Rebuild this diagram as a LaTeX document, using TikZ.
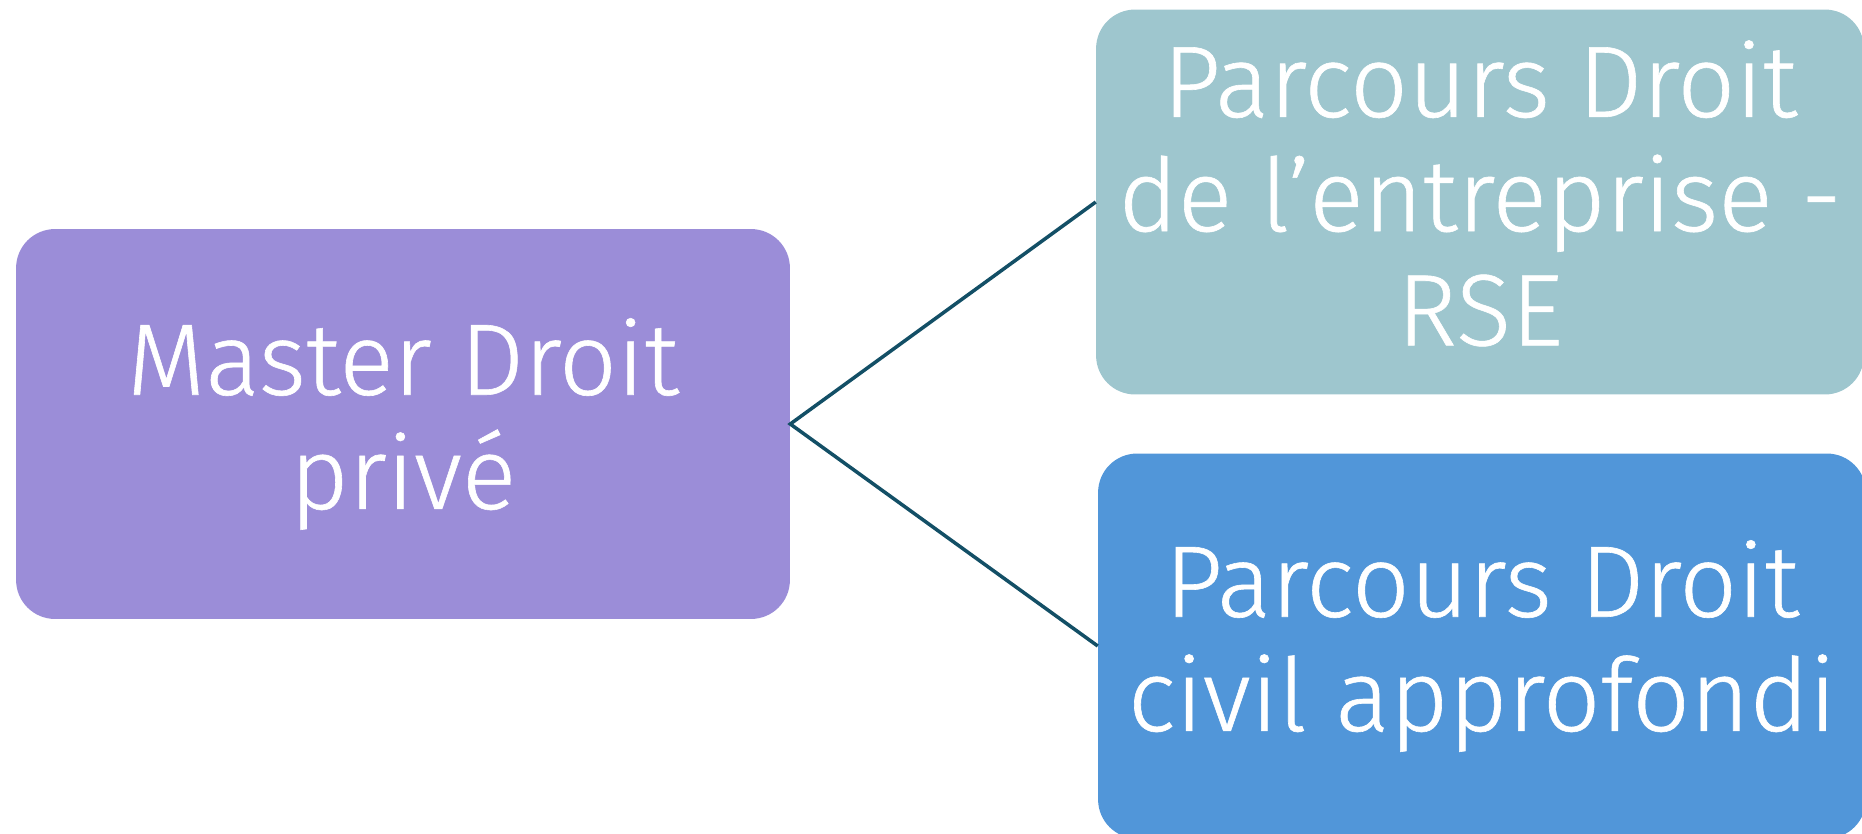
\documentclass[tikz,border=0pt]{standalone}
\usepackage{fontspec}
\setmainfont{Fira Sans}[UprightFont=* Light, UprightFeatures={FakeBold=0.6}]
\usetikzlibrary{positioning}
\definecolor{masterfill}{HTML}{9B8DD8}
\definecolor{rsefill}{HTML}{9EC6CE}
\definecolor{civilfill}{HTML}{5196D9}
\definecolor{linkcol}{HTML}{134F66}

\begin{document}
\begin{tikzpicture}[x=0.02cm, y=-0.02cm,
                box/.style={rounded corners=0.78cm, inner sep=0pt, align=center, text=white,
                            font=\fontsize{57.8}{65}\selectfont},
                master/.style={box, fill=masterfill, minimum width=15.48cm, minimum height=7.8cm},
                parcours/.style={box, minimum width=15.36cm, minimum height=7.7cm},
                link/.style={draw=linkcol, line width=2pt},
            ]
                \useasboundingbox (0,0) rectangle (1862,833);

                % Master
                \node[master] (master) at (403,424) {Master Droit\\privé};

                % Parcours
                \node[parcours, fill=rsefill] (rse) at (1480,202) {Parcours Droit\\de l’entreprise -\\RSE\rule[-0.18em]{0pt}{0pt}};
                \node[parcours, fill=civilfill] (civil) at (1482,646) {Parcours Droit\\civil approfondi};

                % Links
                \draw[link] (rse.west) -- (master.east) -- (civil.west);
            \end{tikzpicture}
\end{document}
